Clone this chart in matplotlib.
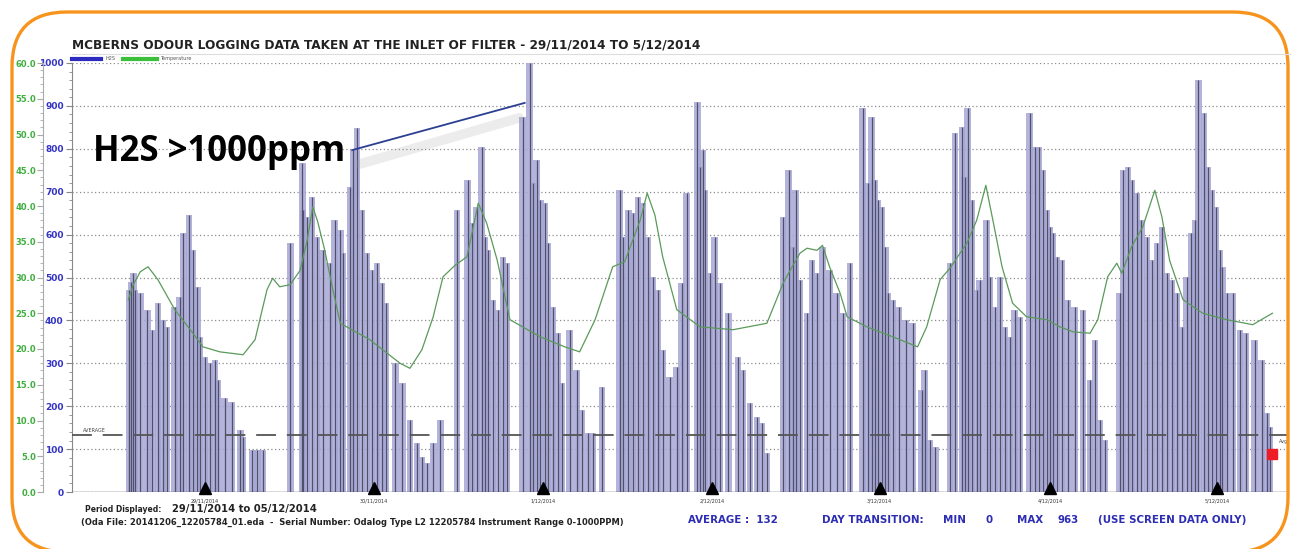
import matplotlib.pyplot as plt
from matplotlib.patches import FancyBboxPatch
from matplotlib.ticker import MultipleLocator, FormatStrFormatter

# H2S readings: hours from the left edge of the display, peak ppm
h2s_hours = [8.1, 8.4, 8.7, 8.9, 9.7, 10.7, 11.4, 12.2, 12.9, 13.5, 14.6, 15.3, 15.8, 16.6,
             17.2, 17.8, 18.2, 18.9, 19.6, 20.3, 20.7, 21.7, 22.7, 23.9, 24.3, 25.6, 26.3, 27.1,
             31.0,
             32.7, 32.8, 33.4, 34.1, 34.8, 35.6, 36.6, 37.3, 38.1, 38.5, 39.5, 39.9, 40.5, 41.2,
             41.9, 42.6, 43.3, 44.0, 44.6, 45.9, 46.9, 48.0, 49.0, 49.7, 50.4, 51.3, 52.3,
             54.7, 56.2, 56.8, 57.5, 58.2, 58.6, 59.1, 59.8, 60.5, 61.2, 61.8, 64.0, 65.0, 65.5,
             66.0, 66.5, 67.2, 67.6, 68.3, 69.0, 69.6, 70.7, 71.7, 72.4, 73.3, 74.0, 75.3,
             77.8, 78.2, 79.0, 79.7, 80.4, 81.1, 81.8, 82.5, 83.2, 83.9, 84.9, 85.9, 86.6, 87.3,
             88.8, 89.2, 89.6, 89.9, 90.6, 91.3, 92.0, 93.2, 94.6, 95.3, 96.3, 97.3, 98.0, 98.7,
             101.0, 101.8, 102.4, 102.8, 103.4, 104.4, 105.1, 105.8, 106.6, 107.6, 108.6, 109.5,
             110.5, 112.3, 113.0, 113.6, 114.0, 114.5, 115.0, 115.5, 115.9, 116.6, 117.4, 118.4,
             119.4, 120.7, 121.1, 121.8, 122.6,
             124.7, 125.4, 126.4, 126.8, 127.2, 127.8, 128.5, 128.9, 129.9, 130.4, 131.1, 131.8,
             132.5, 133.2, 133.9, 134.6, 136.0, 136.8, 137.3, 137.9, 138.5, 138.9, 139.3, 139.9,
             140.6, 141.4, 142.4, 143.6, 144.6, 145.3, 146.0, 146.7,
             148.8, 149.3, 150.0, 150.5, 151.2, 151.9, 152.7, 153.4, 154.1, 154.8, 155.5, 156.2,
             156.9, 157.6, 158.3, 159.0, 159.5, 160.0, 160.8, 161.3, 161.9, 162.5, 163.0, 163.4,
             164.0, 164.9, 165.9, 166.7, 168.0, 169.0, 169.7, 170.1]
h2s_ppm = [470, 490, 510, 470, 464, 424, 378, 440, 400, 385, 431, 455, 604, 646,
           564, 478, 361, 315, 300, 307, 261, 219, 210, 145, 128, 98, 98, 98,
           580,
           767, 657, 641, 688, 594, 564, 534, 634, 611, 557, 711, 797, 848, 657,
           557, 517, 534, 487, 440, 300, 254, 168, 114, 82, 68, 114, 168,
           657, 727, 627, 664, 804, 594, 564, 448, 424, 548, 534, 874, 1000, 720,
           774, 681, 674, 580, 431, 370, 254, 378, 284, 191, 138, 138, 245,
           704, 594, 657, 650, 688, 674, 594, 501, 471, 331, 268, 291, 487, 697,
           909, 758, 797, 704, 510, 594, 487, 417, 315, 284, 207, 175, 161, 91,
           641, 751, 571, 704, 494, 417, 541, 510, 571, 517, 464, 417,
           534, 895, 720, 874, 727, 681, 664, 571, 464, 448, 431, 401,
           394, 238, 284, 121, 105,
           534, 837, 851, 734, 895, 681, 471, 494, 634, 501, 431, 501,
           385, 361, 424, 408, 883, 804, 804, 751, 657, 618, 604, 548,
           541, 448, 431, 424, 261, 354, 168, 121,
           464, 751, 758, 727, 697, 634, 594, 541, 580, 618, 510, 494,
           464, 385, 501, 604, 634, 960, 883, 758, 704, 664, 564, 524,
           464, 464, 378, 370, 354, 308, 184, 152]

# temperature trace (deg C)
temp_hours = [8.0, 8.7, 9.7, 10.8, 12.2, 14.6, 16.8, 18.6, 21.0, 24.3, 26.0, 27.7, 28.5, 29.5,
              31.0, 32.4, 33.4, 34.2, 34.9, 35.9, 36.9, 38.1, 42.3, 46.6, 48.0, 49.7, 51.3,
              52.7, 54.4, 56.1, 57.7, 58.9, 60.4, 62.2, 66.5, 70.0, 72.1, 74.3, 76.8, 78.5,
              80.7, 81.7, 82.8, 83.9, 85.9, 89.2, 93.9, 98.7, 101.0, 102.0, 103.4, 104.4,
              105.8, 106.6, 107.6, 109.1, 110.1, 112.9, 116.6, 120.1, 121.4, 123.3, 124.7,
              127.1, 128.5, 129.8, 130.8, 132.1, 133.6, 135.6, 138.5, 140.3, 142.2, 144.6,
              145.7, 147.1, 148.4, 149.1, 150.5, 152.1, 153.8, 154.8, 155.9, 157.8, 160.6,
              164.0, 167.7, 170.5]
temp_c = [26.9, 29.0, 30.8, 31.5, 29.7, 25.5, 22.7, 20.3, 19.6, 19.2, 21.3, 28.3, 29.9, 28.7,
          29.0, 31.0, 35.2, 39.9, 37.8, 33.8, 29.0, 23.6, 21.3, 18.0, 17.3, 19.9, 24.5,
          30.1, 31.7, 32.9, 40.4, 37.6, 32.4, 24.1, 21.7, 20.3, 19.6, 24.1, 31.5, 32.2,
          38.0, 41.8, 38.7, 32.9, 25.5, 23.1, 22.7, 23.6, 29.2, 31.0, 33.4, 34.1,
          33.8, 34.5, 31.5, 27.8, 24.5, 23.1, 21.7, 20.3, 23.1, 29.7, 31.3,
          34.8, 38.0, 42.9, 38.0, 31.5, 26.4, 24.5, 24.1, 23.1, 22.4, 22.2,
          24.1, 30.1, 32.0, 30.6, 34.3, 37.1, 42.2, 38.5, 32.4, 26.9, 25.0,
          24.1, 23.4, 25.0]

day_hours = [18.9, 42.9, 66.9, 90.9, 114.7, 138.9, 162.7]
day_labels = ['29/11/2014', '30/11/2014', '1/12/2014', '2/12/2014',
              '3/12/2014', '4/12/2014', '5/12/2014']
average_ppm = 132
last_hour = 170.5
last_ppm = 88

W, H = 1292, 549


def fx(px):
    return px / W


def fy(py):
    return 1 - py / H


fig = plt.figure(figsize=(W / 100, H / 100), dpi=100)

# orange rounded frame
frame = FancyBboxPatch((0.12, -0.03), 12.76, 5.40, boxstyle='round,pad=0,rounding_size=0.55',
                       transform=fig.dpi_scale_trans, fill=False, edgecolor='#f7941d',
                       linewidth=2.4, clip_on=False)
fig.patches.append(frame)

ax = fig.add_axes([fx(72), fy(492), (1290 - 72) / W, (492 - 63) / H])
ax.set_xlim(0, 173)
ax.set_ylim(0, 1000)

# spikes: lavender fill with a dark trace line
ax.bar(h2s_hours, h2s_ppm, width=0.95, color='#a6a6d6', edgecolor='none', alpha=0.85,
       zorder=3)
ax.vlines(h2s_hours, 0, h2s_ppm, color='#50506a', lw=0.9, zorder=4)
ax.axhline(0, color='#50506a', lw=1.0, zorder=4)
ax.axhline(average_ppm, color='#555555', lw=1.3, dashes=(11, 6), zorder=5)
ax.text(1.5, average_ppm + 8, 'AVERAGE', fontsize=3.5, color='#444444', zorder=6)
ax.text(171.5, average_ppm - 8, 'Avg', fontsize=3.5, color='#444444', va='top', zorder=6)

ax.plot(day_hours, [9] * len(day_hours), ls='none', marker='^', color='black', ms=8,
        zorder=7, clip_on=False)
for h, lab in zip(day_hours, day_labels):
    ax.text(h, -14, lab, fontsize=3.5, ha='center', va='top', color='#333333')

ax.plot([last_hour], [last_ppm], ls='none', marker='s', color='#ee1c24', ms=7, zorder=8)

ax.yaxis.set_major_locator(MultipleLocator(100))
ax.yaxis.set_minor_locator(MultipleLocator(20))
ax.grid(axis='y', which='major', linestyle=(0, (1, 2)), color='#8c8c8c', lw=0.9, zorder=1)
ax.set_xticks([])
for s in ['top', 'right', 'bottom']:
    ax.spines[s].set_visible(False)
ax.spines['left'].set_color('#888888')
ax.tick_params(axis='y', which='major', length=4, colors='#888888', labelcolor='#3434c4',
               labelsize=6.5, pad=2)
ax.tick_params(axis='y', which='minor', length=2, colors='#888888')
for t in ax.get_yticklabels():
    t.set_fontweight('bold')

ax2 = ax.twinx()
ax2.set_ylim(0, 60)
ax2.plot(temp_hours, temp_c, color='#5a9a5a', lw=0.9, zorder=9)
ax2.yaxis.set_ticks_position('left')
ax2.spines['left'].set_position(('outward', 21))
ax2.spines['left'].set_color('#aaaaaa')
for s in ['top', 'right', 'bottom']:
    ax2.spines[s].set_visible(False)
ax2.yaxis.set_major_locator(MultipleLocator(5))
ax2.yaxis.set_minor_locator(MultipleLocator(1))
ax2.yaxis.set_major_formatter(FormatStrFormatter('%.1f'))
ax2.tick_params(axis='y', which='major', length=4, colors='#aaaaaa', labelcolor='#3fae3f',
                labelsize=6, pad=1)
ax2.tick_params(axis='y', which='minor', length=2, colors='#aaaaaa')
for t in ax2.get_yticklabels():
    t.set_fontweight('bold')

# callout
ax.plot([41.0, 63.5], [765, 872], color='#a0a0a0', lw=7, alpha=0.2, zorder=10,
        solid_capstyle='round')
ax.plot([39.8, 64.3], [797, 907], color='#2b3f91', lw=1.3, zorder=11)
fig.text(fx(93), fy(152), 'H2S >1000ppm', fontsize=25, fontweight='bold',
         family='Open Sans', va='center', ha='left', color='black')

# title and legend
fig.text(fx(72), fy(45), 'MCBERNS ODOUR LOGGING DATA TAKEN AT THE INLET OF FILTER - 29/11/2014 TO 5/12/2014',
         fontsize=8.75, fontweight='bold', va='center', color='#222222')
fig.add_artist(plt.Line2D([fx(72), fx(1290)], [fy(54), fy(54)], color='#dddddd', lw=0.8))
fig.add_artist(plt.Line2D([fx(72), fx(101)], [fy(58.5), fy(58.5)], color='#2b2bc0', lw=3))
fig.text(fx(105), fy(58.5), 'H2S', fontsize=3.5, va='center', color='#555555')
fig.add_artist(plt.Line2D([fx(123), fx(157)], [fy(58.5), fy(58.5)], color='#3cc03c', lw=3))
fig.text(fx(160), fy(58.5), 'Temperature', fontsize=3.5, va='center', color='#555555')

# footer
fig.text(fx(85), fy(509), 'Period Displayed:', fontsize=5.5, fontweight='bold',
         va='center', color='#222222')
fig.text(fx(172), fy(509), '29/11/2014 to 05/12/2014', fontsize=7.2, fontweight='bold',
         va='center', color='#222222')
fig.text(fx(81), fy(522), '(Oda File: 20141206_12205784_01.eda  -  Serial Number: Odalog Type L2 '
         '12205784 Instrument Range 0-1000PPM)', fontsize=6, fontweight='bold',
         va='center', color='#222222')
blue = '#2d2db4'
footer_items = [(688, 'AVERAGE :  132'), (822, 'DAY TRANSITION:'), (943, 'MIN'),
                (985, '0'), (1017, 'MAX'), (1058, '963'), (1098, '(USE SCREEN DATA ONLY)')]
for px, txt in footer_items:
    fig.text(fx(px), fy(520), txt, fontsize=7.4, fontweight='bold', va='center', color=blue)

fig.savefig('out.png', dpi=100)
